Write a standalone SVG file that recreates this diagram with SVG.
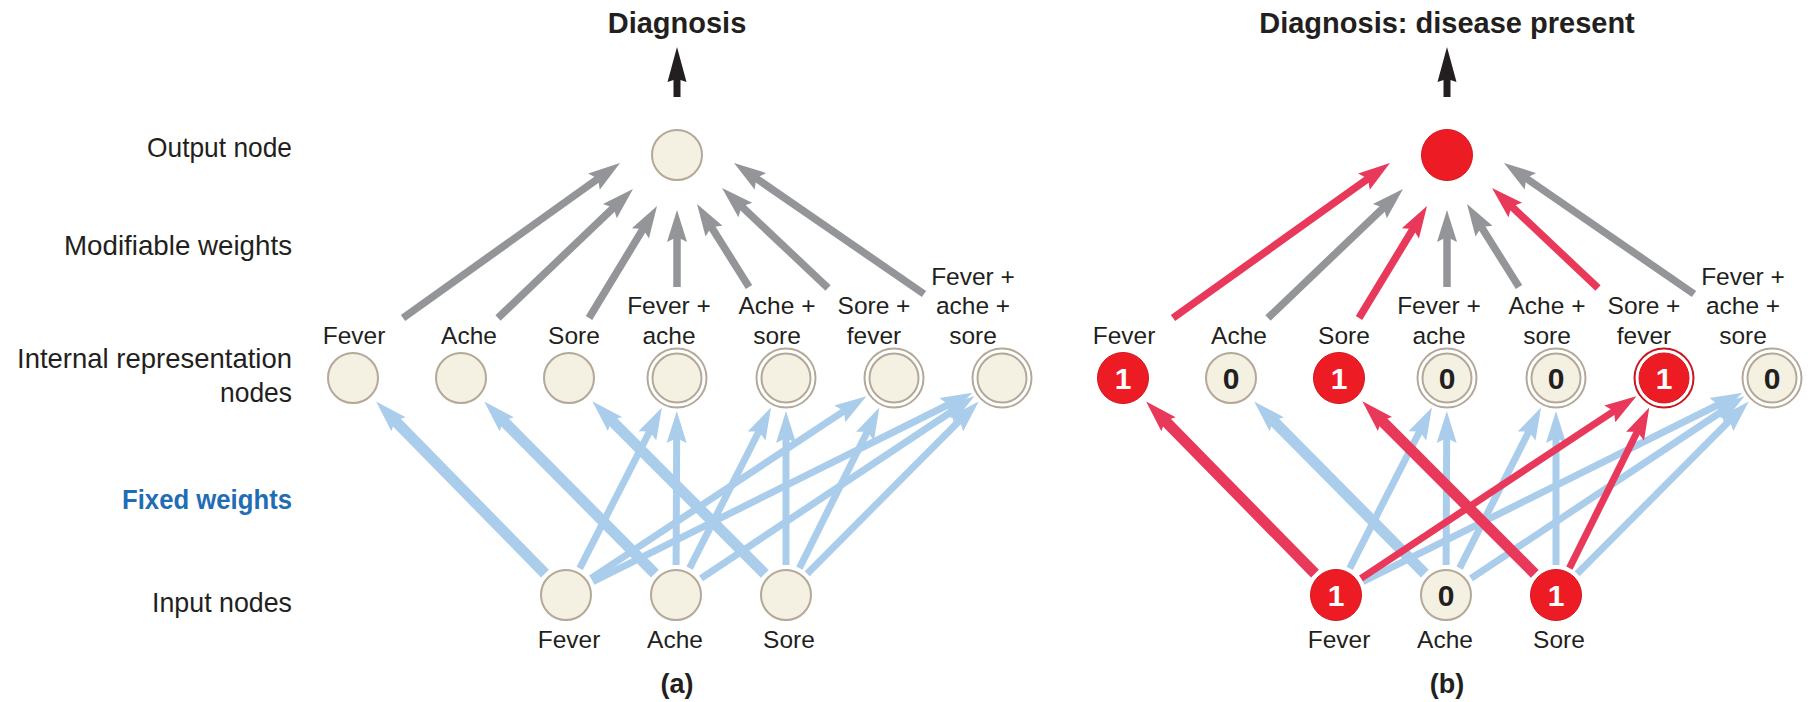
<svg xmlns="http://www.w3.org/2000/svg" width="1816" height="702" viewBox="0 0 1816 702">
  <defs>
    <style>
      text { font-family: "Liberation Sans", Arial, Helvetica, sans-serif; fill: #231f20; }
      .side { font-size: 28.5px; text-anchor: end; }
      .fixed { font-size: 27.5px; font-weight: bold; fill: #1f6db5; }
      .lbl { font-size: 24.5px; text-anchor: middle; }
      .title { font-size: 29px; font-weight: bold; text-anchor: middle; }
      .panel { font-size: 27px; font-weight: bold; text-anchor: middle; }
      .num { font-size: 30px; font-weight: bold; text-anchor: middle; }
      .num.on { fill: #ffffff; }
      .node { fill: #f4f1e3; stroke: #b4a898; stroke-width: 2; }
      .ring { fill: #ffffff; stroke: #b4a898; stroke-width: 2; }
      .hot { fill: #ed1c24; stroke: #d3161e; stroke-width: 1; }
      .hotring { fill: #ffffff; stroke: #c8161e; stroke-width: 2; }
      .w { fill: none; stroke-linecap: butt; }
      .grey { stroke: #939598; stroke-width: 7.5; marker-end: url(#hGrey); }
      .blue { stroke: #abcdec; stroke-width: 7; marker-end: url(#hBlue); }
      .red { stroke: #e8395b; stroke-width: 7.5; marker-end: url(#hRed); }
      .thin { stroke-width: 7; }
      .thick { stroke-width: 11; }
    </style>
    <marker id="hGrey" markerUnits="userSpaceOnUse" orient="auto" viewBox="-12 -12 36 24" markerWidth="36" markerHeight="24" refX="0" refY="0">
      <path d="M22,0 L-10,-10 L-5,0 L-10,10 Z" fill="#939598"/>
    </marker>
    <marker id="hBlue" markerUnits="userSpaceOnUse" orient="auto" viewBox="-12 -12 36 24" markerWidth="36" markerHeight="24" refX="0" refY="0">
      <path d="M22,0 L-10,-10 L-5,0 L-10,10 Z" fill="#abcdec"/>
    </marker>
    <marker id="hRed" markerUnits="userSpaceOnUse" orient="auto" viewBox="-12 -12 36 24" markerWidth="36" markerHeight="24" refX="0" refY="0">
      <path d="M22,0 L-10,-10 L-5,0 L-10,10 Z" fill="#e8395b"/>
    </marker>
  </defs>

  <rect width="1816" height="702" fill="#ffffff"/>

  <!-- layer captions (narrowed to a condensed measure) -->
  <g id="layer-captions">
    <text class="side" x="292" y="157" textLength="145" lengthAdjust="spacingAndGlyphs">Output node</text>
    <text class="side" x="292" y="255" textLength="228" lengthAdjust="spacingAndGlyphs">Modifiable weights</text>
    <text class="side" x="292" y="368" textLength="275" lengthAdjust="spacingAndGlyphs">Internal representation</text>
    <text class="side" x="292" y="402" textLength="72" lengthAdjust="spacingAndGlyphs">nodes</text>
    <text class="side fixed" x="292" y="509" textLength="170" lengthAdjust="spacingAndGlyphs">Fixed weights</text>
    <text class="side" x="292" y="612" textLength="140" lengthAdjust="spacingAndGlyphs">Input nodes</text>
  </g>

  <!-- ===== panel (a): untrained network ===== -->
  <g id="panel-a">
    <g id="connectors-a">
      <!-- fixed weights: input -> internal -->
      <line class="w blue thick" x1="545.0" y1="573.6" x2="391.5" y2="417.2"/>
      <line class="w blue" x1="579.7" y1="568.3" x2="651.9" y2="427.0"/>
      <line class="w blue" x1="591.0" y1="578.4" x2="848.1" y2="408.3"/>
      <line class="w blue" x1="592.9" y1="581.6" x2="952.8" y2="402.5"/>
      <line class="w blue thick" x1="654.9" y1="573.7" x2="499.7" y2="417.1"/>
      <line class="w blue" x1="676.1" y1="565" x2="676.7" y2="433"/>
      <line class="w blue" x1="689.6" y1="568.2" x2="761.1" y2="427.1"/>
      <line class="w blue" x1="701.0" y1="578.4" x2="956.2" y2="408.5"/>
      <line class="w blue thick" x1="764.8" y1="573.8" x2="607.9" y2="416.9"/>
      <line class="w blue" x1="786" y1="565" x2="786" y2="433"/>
      <line class="w blue" x1="799.4" y1="568.1" x2="869.5" y2="427.2"/>
      <line class="w blue" x1="807.2" y1="573.7" x2="963.2" y2="417.0"/>
      <!-- modifiable weights: internal -> output -->
      <line class="w grey" x1="403" y1="318" x2="602.1" y2="175.8"/>
      <line class="w grey" x1="498" y1="318" x2="617.1" y2="204.2"/>
      <line class="w grey" x1="589" y1="318" x2="645.6" y2="224.8"/>
      <line class="w grey" x1="677" y1="287" x2="677" y2="232"/>
      <line class="w grey" x1="749" y1="287" x2="708.7" y2="222.7"/>
      <line class="w grey" x1="828" y1="288" x2="738.0" y2="203.1"/>
      <line class="w grey" x1="924" y1="294" x2="752.1" y2="175.5"/>
      <!-- diagnosis output -->
      <path d="M677,47 L686.5,82 L680.5,80 L680.5,97 L673.5,97 L673.5,80 L667.5,82 Z" fill="#231f20"/>
    </g>

    <text class="title" x="677" y="33">Diagnosis</text>

    <g id="a-output">
      <circle class="node" cx="677" cy="155" r="25"/>
    </g>

    <g id="a-int-fever">
      <circle class="node" cx="353" cy="378" r="25"/>
      <text class="lbl" x="354" y="344">Fever</text>
    </g>
    <g id="a-int-ache">
      <circle class="node" cx="461" cy="378" r="25"/>
      <text class="lbl" x="469" y="344">Ache</text>
    </g>
    <g id="a-int-sore">
      <circle class="node" cx="569" cy="378" r="25"/>
      <text class="lbl" x="574" y="344">Sore</text>
    </g>
    <g id="a-int-fever-ache">
      <circle class="ring" cx="677" cy="378" r="29.5"/>
      <circle class="node" cx="677" cy="378" r="24.5"/>
      <text class="lbl" x="669" y="314">Fever +</text>
      <text class="lbl" x="669" y="344">ache</text>
    </g>
    <g id="a-int-ache-sore">
      <circle class="ring" cx="786" cy="378" r="29.5"/>
      <circle class="node" cx="786" cy="378" r="24.5"/>
      <text class="lbl" x="777" y="314">Ache +</text>
      <text class="lbl" x="777" y="344">sore</text>
    </g>
    <g id="a-int-sore-fever">
      <circle class="ring" cx="894" cy="378" r="29.5"/>
      <circle class="node" cx="894" cy="378" r="24.5"/>
      <text class="lbl" x="874" y="314">Sore +</text>
      <text class="lbl" x="874" y="344">fever</text>
    </g>
    <g id="a-int-all">
      <circle class="ring" cx="1002" cy="378" r="29.5"/>
      <circle class="node" cx="1002" cy="378" r="24.5"/>
      <text class="lbl" x="973" y="285">Fever +</text>
      <text class="lbl" x="973" y="314">ache +</text>
      <text class="lbl" x="973" y="344">sore</text>
    </g>

    <g id="a-in-fever">
      <circle class="node" cx="566" cy="595" r="25"/>
      <text class="lbl" x="569" y="648">Fever</text>
    </g>
    <g id="a-in-ache">
      <circle class="node" cx="676" cy="595" r="25"/>
      <text class="lbl" x="675" y="648">Ache</text>
    </g>
    <g id="a-in-sore">
      <circle class="node" cx="786" cy="595" r="25"/>
      <text class="lbl" x="789" y="648">Sore</text>
    </g>

    <text class="panel" x="677" y="693">(a)</text>
  </g>

  <!-- ===== panel (b): fever and sore present ===== -->
  <g id="panel-b" transform="translate(770,0)">
    <g id="connectors-b">
      <!-- fixed weights, inactive -->
      <line class="w blue" x1="579.7" y1="568.3" x2="651.9" y2="427.0"/>
      <line class="w blue" x1="592.9" y1="581.6" x2="952.8" y2="402.5"/>
      <line class="w blue thick" x1="654.9" y1="573.7" x2="499.7" y2="417.1"/>
      <line class="w blue" x1="676.1" y1="565" x2="676.7" y2="433"/>
      <line class="w blue" x1="689.6" y1="568.2" x2="761.1" y2="427.1"/>
      <line class="w blue" x1="701.0" y1="578.4" x2="956.2" y2="408.5"/>
      <line class="w blue" x1="786" y1="565" x2="786" y2="433"/>
      <line class="w blue" x1="807.2" y1="573.7" x2="963.2" y2="417.0"/>
      <!-- fixed weights, active -->
      <line class="w red thick" x1="545.0" y1="573.6" x2="391.5" y2="417.2"/>
      <line class="w red thick" x1="764.8" y1="573.8" x2="607.9" y2="416.9"/>
      <line class="w red thin" x1="591.0" y1="578.4" x2="848.1" y2="408.3"/>
      <line class="w red thin" x1="799.4" y1="568.1" x2="869.5" y2="427.2"/>
      <!-- modifiable weights -->
      <line class="w grey" x1="498" y1="318" x2="617.1" y2="204.2"/>
      <line class="w grey" x1="677" y1="287" x2="677" y2="232"/>
      <line class="w grey" x1="749" y1="287" x2="708.7" y2="222.7"/>
      <line class="w grey" x1="924" y1="294" x2="752.1" y2="175.5"/>
      <line class="w red" x1="403" y1="318" x2="602.1" y2="175.8"/>
      <line class="w red" x1="589" y1="318" x2="645.6" y2="224.8"/>
      <line class="w red" x1="828" y1="288" x2="738.0" y2="203.1"/>
      <!-- diagnosis output -->
      <path d="M677,47 L686.5,82 L680.5,80 L680.5,97 L673.5,97 L673.5,80 L667.5,82 Z" fill="#231f20"/>
    </g>

    <text class="title" x="677" y="33">Diagnosis: disease present</text>

    <g id="b-output">
      <circle class="hot" cx="677" cy="155" r="25.5"/>
    </g>

    <g id="b-int-fever">
      <circle class="hot" cx="353" cy="378" r="25.5"/>
      <text class="num on" x="353" y="389">1</text>
      <text class="lbl" x="354" y="344">Fever</text>
    </g>
    <g id="b-int-ache">
      <circle class="node" cx="461" cy="378" r="25"/>
      <text class="num" x="461" y="389">0</text>
      <text class="lbl" x="469" y="344">Ache</text>
    </g>
    <g id="b-int-sore">
      <circle class="hot" cx="569" cy="378" r="25.5"/>
      <text class="num on" x="569" y="389">1</text>
      <text class="lbl" x="574" y="344">Sore</text>
    </g>
    <g id="b-int-fever-ache">
      <circle class="ring" cx="677" cy="378" r="29.5"/>
      <circle class="node" cx="677" cy="378" r="24.5"/>
      <text class="num" x="677" y="389">0</text>
      <text class="lbl" x="669" y="314">Fever +</text>
      <text class="lbl" x="669" y="344">ache</text>
    </g>
    <g id="b-int-ache-sore">
      <circle class="ring" cx="786" cy="378" r="29.5"/>
      <circle class="node" cx="786" cy="378" r="24.5"/>
      <text class="num" x="786" y="389">0</text>
      <text class="lbl" x="777" y="314">Ache +</text>
      <text class="lbl" x="777" y="344">sore</text>
    </g>
    <g id="b-int-sore-fever">
      <circle class="hotring" cx="894" cy="378" r="29.5"/>
      <circle class="hot" cx="894" cy="378" r="25"/>
      <text class="num on" x="894" y="389">1</text>
      <text class="lbl" x="874" y="314">Sore +</text>
      <text class="lbl" x="874" y="344">fever</text>
    </g>
    <g id="b-int-all">
      <circle class="ring" cx="1002" cy="378" r="29.5"/>
      <circle class="node" cx="1002" cy="378" r="24.5"/>
      <text class="num" x="1002" y="389">0</text>
      <text class="lbl" x="973" y="285">Fever +</text>
      <text class="lbl" x="973" y="314">ache +</text>
      <text class="lbl" x="973" y="344">sore</text>
    </g>

    <g id="b-in-fever">
      <circle class="hot" cx="566" cy="595" r="25.5"/>
      <text class="num on" x="566" y="606">1</text>
      <text class="lbl" x="569" y="648">Fever</text>
    </g>
    <g id="b-in-ache">
      <circle class="node" cx="676" cy="595" r="25"/>
      <text class="num" x="676" y="606">0</text>
      <text class="lbl" x="675" y="648">Ache</text>
    </g>
    <g id="b-in-sore">
      <circle class="hot" cx="786" cy="595" r="25.5"/>
      <text class="num on" x="786" y="606">1</text>
      <text class="lbl" x="789" y="648">Sore</text>
    </g>

    <text class="panel" x="677" y="693">(b)</text>
  </g>
</svg>
